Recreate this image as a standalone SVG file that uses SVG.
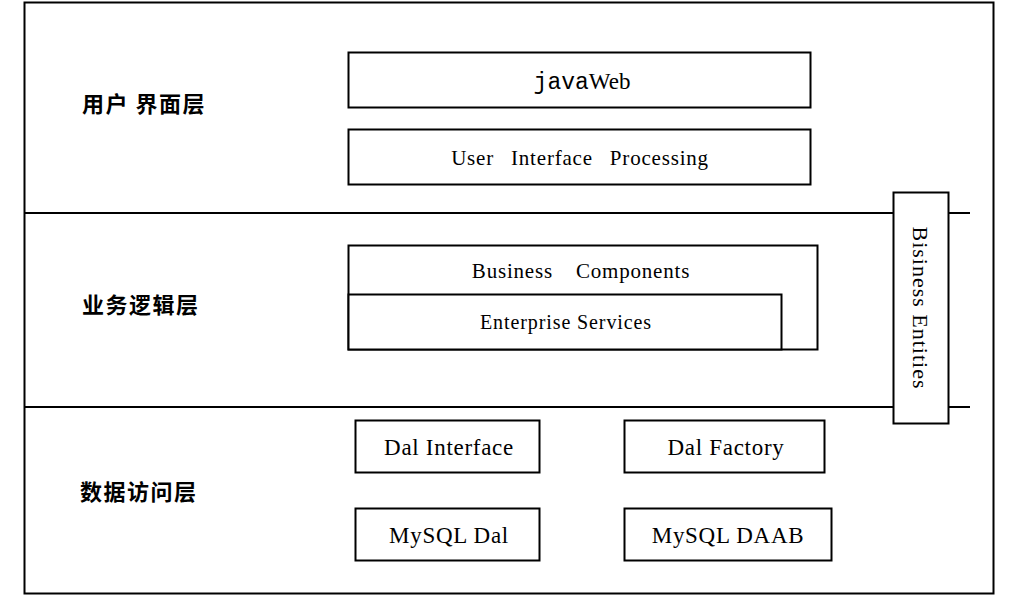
<svg xmlns="http://www.w3.org/2000/svg" width="1032" height="600" viewBox="0 0 1032 600">
<style>
.box{fill:#fff;stroke:#000;stroke-width:2}
.line{stroke:#000;stroke-width:2;fill:none}
.en{font-family:"Liberation Serif","Times New Roman",serif;fill:#000;text-anchor:middle}
.zh{font-family:"Noto Sans CJK SC",sans-serif;font-weight:bold;font-size:22px;fill:#000;letter-spacing:1.5px}
.dal{font-size:23px;letter-spacing:0.7px}
</style>
<rect x="0" y="0" width="1032" height="600" fill="#fff"/>
<rect id="frame" x="24.5" y="2.5" width="969" height="591" class="box"/>
<g id="connectors">
<line x1="24" y1="213" x2="970" y2="213" class="line"/>
<line x1="24" y1="407" x2="970" y2="407" class="line"/>
</g>
<g id="label-ui"><text x="82" y="112" class="zh">用户 界面层</text></g>
<g id="label-biz"><text x="82" y="313" class="zh">业务逻辑层</text></g>
<g id="label-data"><text x="80" y="500" class="zh">数据访问层</text></g>
<g id="javaweb">
<rect x="348.5" y="52.5" width="462" height="55" class="box"/>
<text x="582" y="89" class="en" font-size="23"><tspan font-family="Liberation Mono, Courier New, monospace">java</tspan><tspan>Web</tspan></text>
</g>
<g id="uip">
<rect x="348.5" y="129.5" width="462" height="55" class="box"/>
<text x="580" y="165" class="en" font-size="21" word-spacing="11" letter-spacing="0.8">User Interface Processing</text>
</g>
<g id="business-components">
<rect x="348.5" y="245.5" width="469" height="104" class="box"/>
<text x="581" y="278" class="en" font-size="21" word-spacing="17" letter-spacing="0.8">Business Components</text>
</g>
<g id="enterprise-services">
<rect x="348.5" y="294.5" width="433" height="55" class="box"/>
<text x="566" y="329" class="en" font-size="20" letter-spacing="0.9">Enterprise Services</text>
</g>
<g id="business-entities">
<rect x="893.5" y="192.5" width="55" height="231" class="box"/>
<text x="0" y="0" class="en" font-size="22" letter-spacing="1" transform="translate(913 308) rotate(90)">Bisiness Entities</text>
</g>
<g id="dal-interface">
<rect x="355.5" y="420.5" width="184" height="52" class="box"/>
<text x="449" y="455" class="en dal">Dal Interface</text>
</g>
<g id="dal-factory">
<rect x="624.5" y="420.5" width="200" height="52" class="box"/>
<text x="726" y="455" class="en dal">Dal Factory</text>
</g>
<g id="mysql-dal">
<rect x="355.5" y="508.5" width="184" height="52" class="box"/>
<text x="449" y="543" class="en dal">MySQL Dal</text>
</g>
<g id="mysql-daab">
<rect x="624.5" y="508.5" width="207" height="52" class="box"/>
<text x="728" y="543" class="en dal">MySQL DAAB</text>
</g>
</svg>
